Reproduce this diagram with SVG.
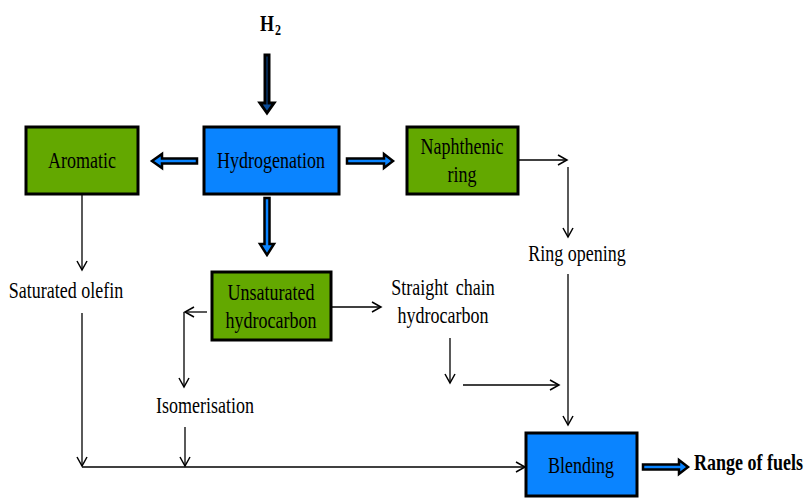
<svg xmlns="http://www.w3.org/2000/svg" width="804" height="498" viewBox="0 0 804 498">
<style>
  .t { font-family: "Liberation Serif", "Times New Roman", serif; font-size: 18px; fill: #000; }
  .b { font-weight: bold; }
  .box { stroke: #000; stroke-width: 3; }
  .g { fill: #63A800; }
  .bl { fill: #0A84FF; }
  .ln { stroke: #000; stroke-width: 1.3; fill: none; marker-end: url(#ah); }
  .blk { fill: #0A84FF; stroke: #000; stroke-width: 2.5; stroke-linejoin: miter; }
  .blk2 { fill: #0A4C9A; stroke: #000; stroke-width: 3; stroke-linejoin: miter; }
</style>
<defs>
  <marker id="ah" markerUnits="userSpaceOnUse" markerWidth="14" markerHeight="14" viewBox="-11 -7 13 14" refX="0" refY="0" orient="auto">
    <path d="M -9 -5 L 0 0 L -9 5" fill="none" stroke="#000" stroke-width="1.5"/>
  </marker>
</defs>

<g id="h2label">
  <text class="t b" transform="translate(260 31) scale(1 1.25)">H</text>
  <text class="t b" transform="translate(275 35) scale(1 1.25)" style="font-size:12px">2</text>
</g>

<g id="aromatic">
  <rect class="box g" x="26" y="127" width="112" height="67"/>
  <text class="t" text-anchor="middle" transform="translate(82 168) scale(1 1.25)">Aromatic</text>
</g>

<g id="hydrogenation">
  <rect class="box bl" x="204" y="127" width="135" height="67"/>
  <text class="t" text-anchor="middle" transform="translate(271 168) scale(1 1.25)">Hydrogenation</text>
</g>

<g id="naphthenic">
  <rect class="box g" x="407" y="127" width="111" height="67"/>
  <text class="t" text-anchor="middle" transform="translate(462 154) scale(1 1.25)">Naphthenic</text>
  <text class="t" text-anchor="middle" transform="translate(462 182) scale(1 1.25)">ring</text>
</g>

<g id="unsaturated">
  <rect class="box g" x="212" y="272" width="119" height="68"/>
  <text class="t" text-anchor="middle" transform="translate(271 300) scale(1 1.25)">Unsaturated</text>
  <text class="t" text-anchor="middle" transform="translate(271 328) scale(1 1.25)">hydrocarbon</text>
</g>

<g id="blending">
  <rect class="box bl" x="526" y="433" width="111" height="63"/>
  <text class="t" text-anchor="middle" transform="translate(581 473) scale(1 1.25)">Blending</text>
</g>

<g id="saturated-olefin">
  <text class="t" text-anchor="middle" transform="translate(66 298) scale(1 1.25)">Saturated olefin</text>
</g>

<g id="ring-opening">
  <text class="t" text-anchor="middle" transform="translate(577 261) scale(1 1.25)">Ring opening</text>
</g>

<g id="straight-chain">
  <text class="t" text-anchor="middle" style="word-spacing:3px" transform="translate(443 295) scale(1 1.25)">Straight chain</text>
  <text class="t" text-anchor="middle" transform="translate(443 323) scale(1 1.25)">hydrocarbon</text>
</g>

<g id="isomerisation">
  <text class="t" text-anchor="middle" transform="translate(205 413) scale(1 1.25)">Isomerisation</text>
</g>

<g id="range-of-fuels">
  <text class="t b" transform="translate(694 470) scale(1 1.25)">Range of fuels</text>
</g>

<g id="connectors">
  <!-- block arrows -->
  <path class="blk2" d="M 265 55 L 269 55 L 269 103 L 274 103 L 267 113 L 260 103 L 265 103 Z"/>
  <path class="blk" d="M 264.5 198 L 269.5 198 L 269.5 244 L 274 244 L 267 255 L 260 244 L 264.5 244 Z"/>
  <path class="blk" d="M 197 158.5 L 197 163.5 L 162 163.5 L 162 168 L 152 161 L 162 154 L 162 158.5 Z"/>
  <path class="blk" d="M 347 158.5 L 347 163.5 L 384 163.5 L 384 168 L 393 161 L 384 154 L 384 158.5 Z"/>
  <path class="blk" d="M 643 464.5 L 643 469.5 L 679 469.5 L 679 474 L 688 467 L 679 460 L 679 464.5 Z"/>

  <!-- thin connectors -->
  <line class="ln" x1="82" y1="194" x2="82" y2="270"/>
  <line class="ln" x1="82" y1="313" x2="82" y2="466"/>
  <line class="ln" x1="82" y1="467" x2="525" y2="467"/>
  <line class="ln" x1="518" y1="160" x2="567" y2="160"/>
  <line class="ln" x1="568" y1="167" x2="568" y2="237"/>
  <line class="ln" x1="568" y1="274" x2="568" y2="425"/>
  <line class="ln" x1="331" y1="307" x2="381" y2="307"/>
  <line class="ln" x1="207" y1="312" x2="185" y2="312"/>
  <line class="ln" x1="184" y1="312" x2="184" y2="387"/>
  <line class="ln" x1="185" y1="427" x2="185" y2="466"/>
  <line class="ln" x1="450" y1="338" x2="450" y2="383"/>
  <line class="ln" x1="463" y1="385" x2="559" y2="385"/>
</g>
</svg>
